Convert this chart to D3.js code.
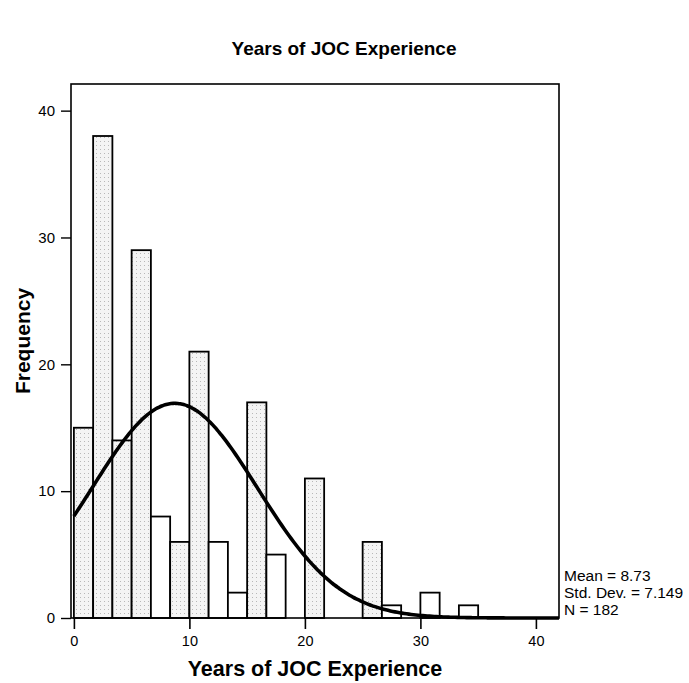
<!DOCTYPE html>
<html>
<head>
<meta charset="utf-8">
<script src="https://cdn.jsdelivr.net/npm/d3@7"></script>
<style>
  body { margin: 0; background: #fff; }
  text { font-family: Arial, "Liberation Sans", sans-serif; }
</style>
</head>
<body>
<div id="chart"></div>
<script>
// histogram bins (width 5/3 years) and counts
const binWidth = 5 / 3;
const binStarts = d3.range(0, 21).map(i => i * binWidth);
const counts = [15, 38, 14, 29, 8, 6, 21, 6, 2, 17, 5, 0, 11, 0, 0, 6, 1, 0, 2, 0, 1];
const shaded = [0, 1, 2, 3, 5, 6, 9, 12, 15]; // bins that look stippled in the scan
const xTicks = [0, 10, 20, 30, 40];
const yTicks = [0, 10, 20, 30, 40];
const stats = { mean: 8.73, sd: 7.149, n: 182 };
const statLines = ["Mean = 8.73", "Std. Dev. = 7.149", "N = 182"];

const W = 689, H = 683;
const margin = { top: 84, right: 130, bottom: 65, left: 71 };
const width = 559 - margin.left;
const height = 618 - margin.top;

const svg = d3.select('#chart').append('svg')
    .attr('width', W)
    .attr('height', H);

const defs = svg.append('defs');
const pat = defs.append('pattern')
    .attr('id', 'stipple')
    .attr('width', 4).attr('height', 4)
    .attr('patternUnits', 'userSpaceOnUse');
pat.append('rect').attr('width', 4).attr('height', 4).attr('fill', '#f4f4f4');
pat.append('rect').attr('x', 1).attr('y', 1).attr('width', 1).attr('height', 1).attr('fill', '#b8b8b8');

const g = svg.append('g')
    .attr('transform', 'translate(' + margin.left + ',' + margin.top + ')');

const x = d3.scaleLinear().domain([-0.25, 42]).range([0, width]);
const y = d3.scaleLinear().domain([0, 42.1]).range([height, 0]);

// bars
g.selectAll('rect.bar')
    .data(counts.map((c, i) => ({ x0: binStarts[i], c: c, i: i })).filter(d => d.c > 0))
    .enter()
    .append('rect')
    .attr('class', 'bar')
    .attr('x', d => x(d.x0))
    .attr('y', d => y(d.c))
    .attr('width', d => x(d.x0 + binWidth) - x(d.x0))
    .attr('height', d => y(0) - y(d.c))
    .style('fill', d => shaded.includes(d.i) ? 'url(#stipple)' : '#fff')
    .style('stroke', '#000')
    .style('stroke-width', 1.8);

// normal curve
const normal = v => stats.n * binWidth * Math.exp(-0.5 * Math.pow((v - stats.mean) / stats.sd, 2)) / (stats.sd * Math.sqrt(2 * Math.PI));
const curvePts = d3.range(0, 42.01, 0.2).map(v => [v, normal(v)]);
g.append('path')
    .datum(curvePts)
    .attr('d', d3.line().x(d => x(d[0])).y(d => y(d[1])).curve(d3.curveBasis))
    .style('fill', 'none')
    .style('stroke', '#000')
    .style('stroke-width', 3.6);

// frame
g.append('rect')
    .attr('width', width).attr('height', height)
    .style('fill', 'none')
    .style('stroke', '#000')
    .style('stroke-width', 1.6);

// axes
const xAxis = g.append('g')
    .attr('transform', 'translate(0,' + height + ')')
    .call(d3.axisBottom(x).tickValues(xTicks).tickSize(11).tickPadding(7));
xAxis.select('.domain').remove();
xAxis.selectAll('line').style('stroke-width', 1.6);
xAxis.selectAll('text').style('font-size', '14.5px').style('fill', '#000');

const yAxis = g.append('g')
    .call(d3.axisLeft(y).tickValues(yTicks).tickSize(10).tickPadding(6));
yAxis.select('.domain').remove();
yAxis.selectAll('line').style('stroke-width', 1.4);
yAxis.selectAll('text').style('font-size', '15px').style('fill', '#000');

// titles
svg.append('text')
    .attr('x', 344).attr('y', 55)
    .attr('text-anchor', 'middle')
    .style('font-size', '19px').style('font-weight', 'bold')
    .text('Years of JOC Experience');

svg.append('text')
    .attr('x', margin.left + width / 2).attr('y', 676)
    .attr('text-anchor', 'middle')
    .style('font-size', '21.5px').style('font-weight', 'bold')
    .text('Years of JOC Experience');

svg.append('text')
    .attr('transform', 'translate(30,341) rotate(-90)')
    .attr('text-anchor', 'middle')
    .style('font-size', '21px').style('font-weight', 'bold')
    .text('Frequency');

// stats box
svg.append('g').selectAll('text')
    .data(statLines)
    .enter()
    .append('text')
    .attr('x', 564)
    .attr('y', (d, i) => 581 + i * 17)
    .style('font-size', '15.5px')
    .text(d => d);
</script>
</body>
</html>
